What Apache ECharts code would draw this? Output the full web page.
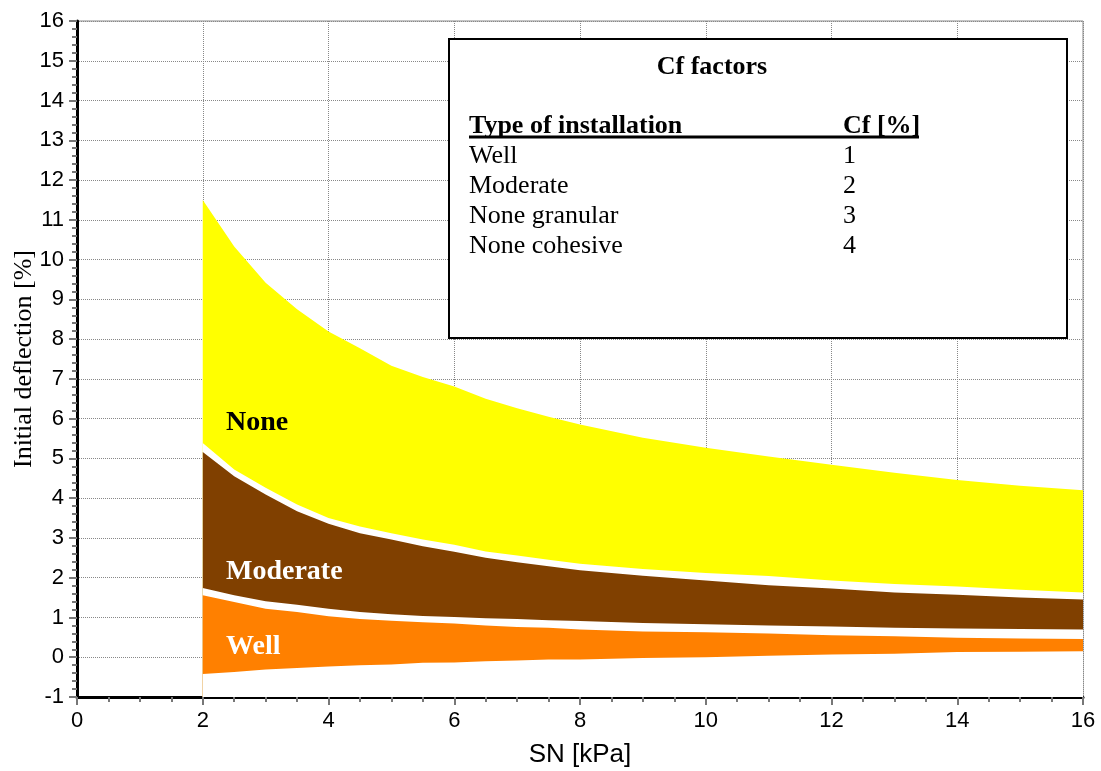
<!DOCTYPE html>
<html>
<head>
<meta charset="utf-8">
<script src="https://cdn.jsdelivr.net/npm/echarts@6/dist/echarts.min.js"></script>
<style>
html, body { margin: 0; padding: 0; background: #fff; }
#main { width: 1101px; height: 771px; }
</style>
</head>
<body>
<div id="main"></div>
<script>
// SN [kPa] sample points
var snValues  = [2, 2.5, 3, 3.5, 4, 4.5, 5, 5.5, 6, 6.5, 7, 7.5, 8, 9, 10, 11, 12, 13, 14, 15, 16];

// band limits, initial deflection [%]
var noneHigh  = [11.5, 10.33, 9.42, 8.75, 8.19, 7.77, 7.33, 7.05, 6.81, 6.50, 6.26, 6.05, 5.85, 5.52, 5.27, 5.05, 4.84, 4.64, 4.46, 4.31, 4.20];
var noneLow   = [5.39, 4.72, 4.26, 3.84, 3.50, 3.29, 3.12, 2.96, 2.83, 2.66, 2.56, 2.45, 2.35, 2.22, 2.12, 2.04, 1.93, 1.84, 1.78, 1.70, 1.63];
var modHigh   = [5.16, 4.55, 4.09, 3.67, 3.36, 3.12, 2.96, 2.79, 2.65, 2.50, 2.39, 2.29, 2.19, 2.05, 1.93, 1.81, 1.73, 1.63, 1.57, 1.50, 1.45];
var modLow    = [1.74, 1.56, 1.41, 1.32, 1.22, 1.14, 1.08, 1.04, 1.01, 0.98, 0.96, 0.93, 0.91, 0.86, 0.83, 0.80, 0.77, 0.74, 0.72, 0.71, 0.70];
var wellHigh  = [1.56, 1.39, 1.22, 1.14, 1.03, 0.96, 0.92, 0.88, 0.85, 0.80, 0.76, 0.74, 0.70, 0.65, 0.63, 0.60, 0.55, 0.53, 0.49, 0.47, 0.46];
var wellLow   = [-0.42, -0.37, -0.31, -0.27, -0.23, -0.20, -0.18, -0.14, -0.13, -0.10, -0.08, -0.06, -0.06, -0.02, 0.00, 0.04, 0.07, 0.09, 0.13, 0.14, 0.15];

// legend table
var tableRows = ['Well', 'Moderate', 'None granular', 'None cohesive'];
var tableCf   = ['1', '2', '3', '4'];

var serif = '"Liberation Serif", "Times New Roman", serif';
var sans = '"Liberation Sans", Arial, sans-serif';

function toPairs(arr){
	return snValues.map(function(x, i){ return [x, arr[i]]; });
}

function bandSeries(name, arr, color){
	return {
		name: name,
		type: 'line',
		data: toPairs(arr),
		symbol: 'none',
		silent: true,
		lineStyle: { width: 1, color: color, opacity: 0 },
		areaStyle: { color: color, opacity: 1, origin: 'start' }
	};
}

var chart = echarts.init(document.getElementById('main'));

var graphics = [
	{ type: 'rect', shape: { x: 449, y: 39, width: 618, height: 299 },
	  style: { fill: '#fff', stroke: '#000', lineWidth: 2 }, z: 100 },
	{ type: 'text', x: 712, y: 67, z: 101,
	  style: { text: 'Cf factors', fontFamily: serif, fontSize: 26, fontWeight: 'bold', fill: '#000', align: 'center', verticalAlign: 'middle' } },
	{ type: 'text', x: 469, y: 126, z: 101,
	  style: { text: 'Type of installation', fontFamily: serif, fontSize: 26, fontWeight: 'bold', fill: '#000', verticalAlign: 'middle' } },
	{ type: 'text', x: 843, y: 126, z: 101,
	  style: { text: 'Cf [%]', fontFamily: serif, fontSize: 26, fontWeight: 'bold', fill: '#000', verticalAlign: 'middle' } },
	{ type: 'line', shape: { x1: 469, y1: 137, x2: 919, y2: 137 }, z: 101,
	  style: { stroke: '#000', lineWidth: 3 } }
];
tableRows.forEach(function(row, i){
	graphics.push({ type: 'text', x: 469, y: 156 + i * 30, z: 101,
		style: { text: row, fontFamily: serif, fontSize: 26, fill: '#000', verticalAlign: 'middle' } });
	graphics.push({ type: 'text', x: 843, y: 156 + i * 30, z: 101,
		style: { text: tableCf[i], fontFamily: serif, fontSize: 26, fill: '#000', verticalAlign: 'middle' } });
});
// band names
graphics.push({ type: 'text', x: 226, y: 423, z: 50,
	style: { text: 'None', fontFamily: serif, fontSize: 28, fontWeight: 'bold', fill: '#000', verticalAlign: 'middle' } });
graphics.push({ type: 'text', x: 226, y: 572, z: 50,
	style: { text: 'Moderate', fontFamily: serif, fontSize: 28, fontWeight: 'bold', fill: '#fff', verticalAlign: 'middle' } });
graphics.push({ type: 'text', x: 226, y: 647, z: 50,
	style: { text: 'Well', fontFamily: serif, fontSize: 28, fontWeight: 'bold', fill: '#fff', verticalAlign: 'middle' } });

var option = {
	animation: false,
	backgroundColor: '#fff',
	grid: {
		left: 77, right: 18, top: 21, bottom: 74,
		containLabel: false,
		outerBoundsMode: 'none',
		show: true, borderColor: '#888', borderWidth: 1
	},
	xAxis: {
		type: 'value',
		min: 0, max: 16, interval: 2,
		name: 'SN [kPa]',
		nameLocation: 'middle',
		nameGap: 45,
		nameMoveOverlap: false,
		nameTextStyle: { fontFamily: sans, fontSize: 26, color: '#000' },
		axisLine: { onZero: false, lineStyle: { color: '#000', width: 3 } },
		axisTick: { length: 8, lineStyle: { color: '#777', width: 2 } },
		minorTick: { show: true, splitNumber: 4, length: 5, lineStyle: { color: '#777', width: 2 } },
		axisLabel: { fontFamily: sans, fontSize: 22, color: '#000', margin: 13 },
		splitLine: { show: true, lineStyle: { color: '#888', type: 'dotted', width: 1 } }
	},
	yAxis: {
		type: 'value',
		min: -1, max: 16, interval: 1,
		name: 'Initial deflection [%]',
		nameLocation: 'middle',
		nameGap: 40,
		nameMoveOverlap: false,
		nameTextStyle: { fontFamily: serif, fontSize: 26, color: '#000' },
		axisLine: { onZero: false, lineStyle: { color: '#000', width: 3 } },
		axisTick: { length: 8, lineStyle: { color: '#777', width: 2 } },
		minorTick: { show: true, splitNumber: 5, length: 5, lineStyle: { color: '#777', width: 2 } },
		axisLabel: { fontFamily: sans, fontSize: 22, color: '#000', margin: 13 },
		splitLine: { show: true, lineStyle: { color: '#888', type: 'dotted', width: 1 } }
	},
	series: [
		bandSeries('None high', noneHigh, '#ffff00'),
		bandSeries('None low', noneLow, '#ffffff'),
		bandSeries('Moderate high', modHigh, '#804000'),
		bandSeries('Moderate low', modLow, '#ffffff'),
		bandSeries('Well high', wellHigh, '#ff8000'),
		bandSeries('Well low', wellLow, '#ffffff')
	],
	graphic: graphics
};
chart.setOption(option);
</script>
</body>
</html>
